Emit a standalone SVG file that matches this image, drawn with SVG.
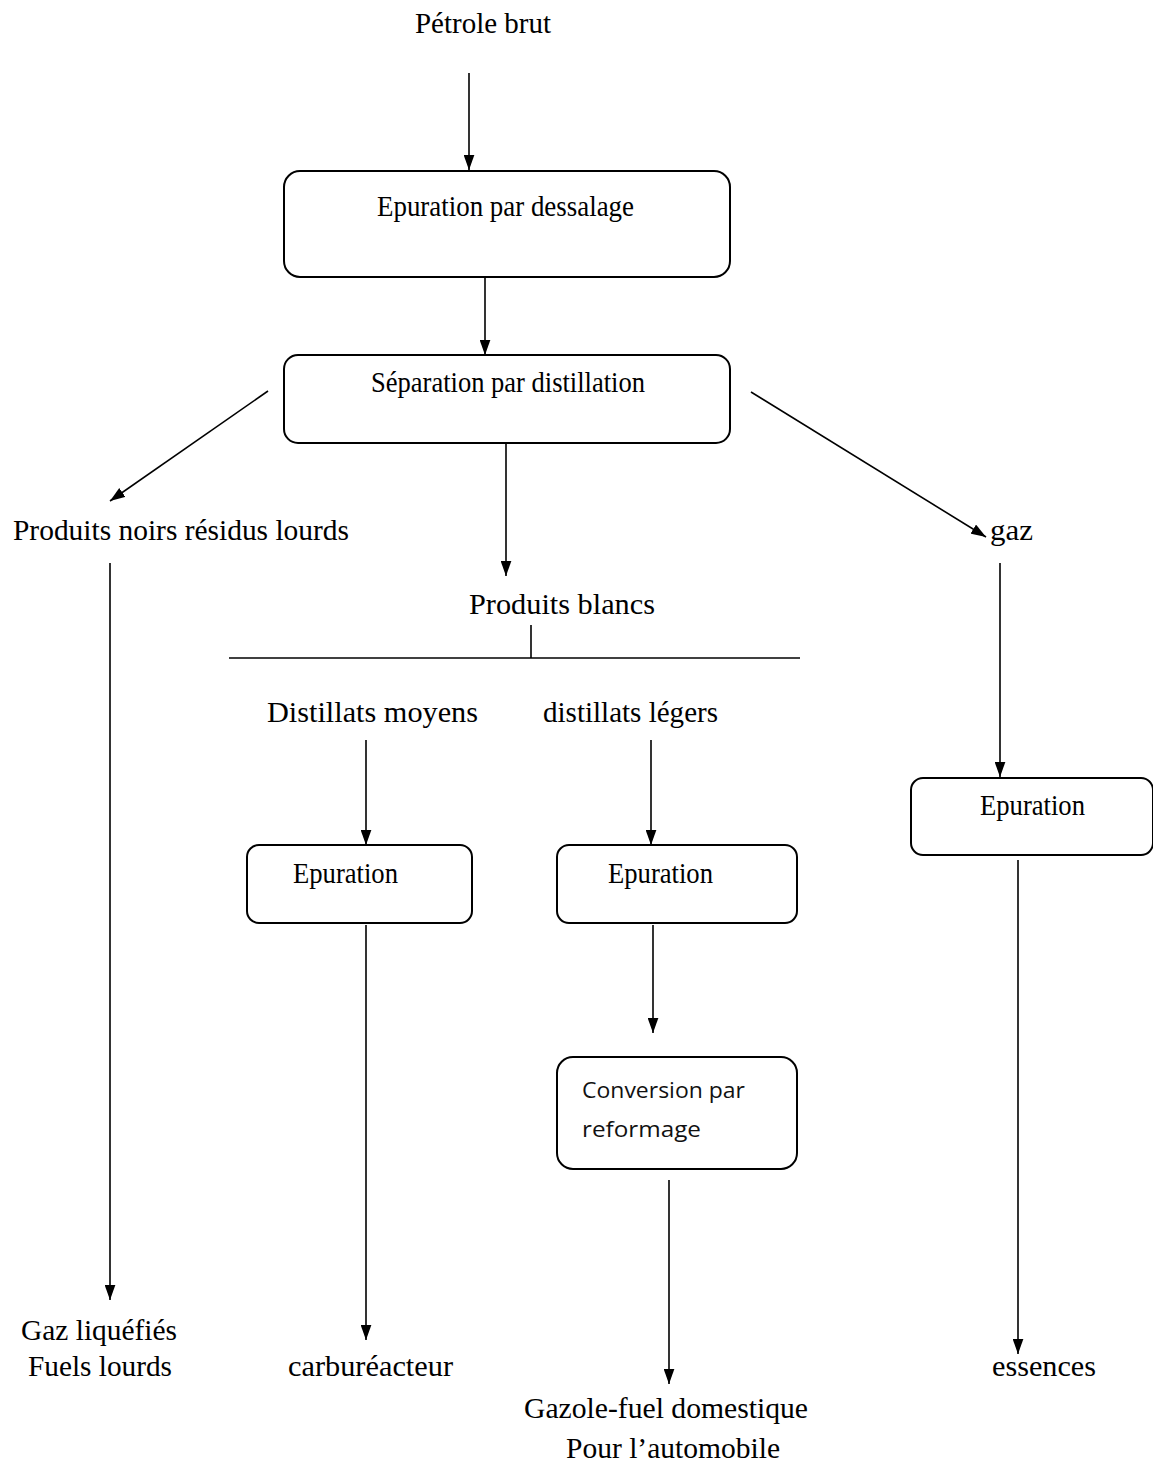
<svg xmlns="http://www.w3.org/2000/svg" width="1153" height="1466" viewBox="0 0 1153 1466">
<defs>
<marker id="ah" viewBox="0 0 14 10" refX="14" refY="5" markerWidth="15" markerHeight="11" markerUnits="userSpaceOnUse" orient="auto">
<path d="M0,0 L14,5 L0,10 Z" fill="#000"/>
</marker>
<style>
.t{font-family:"Liberation Serif","Times New Roman",serif;font-size:30px;fill:#000}
.s{font-family:"Open Sans","Liberation Sans",sans-serif;font-size:22px;fill:#111}
.box{fill:#fff;stroke:#000;stroke-width:2}
.c{stroke:#000;stroke-width:1.6;fill:none}
.a{stroke:#000;stroke-width:1.6;fill:none;marker-end:url(#ah)}
</style>
</defs>
<rect width="1153" height="1466" fill="#fff"/>
<g id="connectors">
<line class="a" x1="469" y1="73" x2="469" y2="170"/>
<line class="a" x1="485" y1="277" x2="485" y2="355"/>
<line class="a" x1="268" y1="391" x2="110" y2="501"/>
<line class="a" x1="506" y1="443" x2="506" y2="576"/>
<line class="a" x1="751" y1="392" x2="986" y2="537"/>
<line class="c" x1="531" y1="625" x2="531" y2="658"/>
<line class="c" x1="229" y1="658" x2="800" y2="658"/>
<line class="a" x1="366" y1="740" x2="366" y2="845"/>
<line class="a" x1="651" y1="740" x2="651" y2="845"/>
<line class="a" x1="653" y1="925" x2="653" y2="1033"/>
<line class="a" x1="669" y1="1180" x2="669" y2="1384"/>
<line class="a" x1="1000" y1="563" x2="1000" y2="777"/>
<line class="a" x1="1018" y1="860" x2="1018" y2="1354"/>
<line class="a" x1="110" y1="563" x2="110" y2="1300"/>
<line class="a" x1="366" y1="925" x2="366" y2="1340"/>
</g>
<g id="petrole"><text class="t" x="415" y="33" textLength="136" lengthAdjust="spacingAndGlyphs">Pétrole brut</text></g>
<g id="dessalage">
<rect class="box" x="284" y="171" width="446" height="106" rx="16"/>
<text class="t" x="377" y="216" textLength="257" lengthAdjust="spacingAndGlyphs">Epuration par dessalage</text>
</g>
<g id="distillation">
<rect class="box" x="284" y="355" width="446" height="88" rx="14"/>
<text class="t" x="371" y="392" textLength="274" lengthAdjust="spacingAndGlyphs">Séparation par distillation</text>
</g>
<g id="noirs"><text class="t" x="13" y="540" textLength="336" lengthAdjust="spacingAndGlyphs">Produits noirs résidus lourds</text></g>
<g id="gaz"><text class="t" x="990" y="540" textLength="43" lengthAdjust="spacingAndGlyphs">gaz</text></g>
<g id="blancs"><text class="t" x="469" y="614" textLength="186" lengthAdjust="spacingAndGlyphs">Produits blancs</text></g>
<g id="moyens"><text class="t" x="267" y="722" textLength="211" lengthAdjust="spacingAndGlyphs">Distillats moyens</text></g>
<g id="legers"><text class="t" x="543" y="722" textLength="175" lengthAdjust="spacingAndGlyphs">distillats légers</text></g>
<g id="epuration1">
<rect class="box" x="247" y="845" width="225" height="78" rx="12"/>
<text class="t" x="293" y="883" textLength="105" lengthAdjust="spacingAndGlyphs">Epuration</text>
</g>
<g id="epuration2">
<rect class="box" x="557" y="845" width="240" height="78" rx="12"/>
<text class="t" x="608" y="883" textLength="105" lengthAdjust="spacingAndGlyphs">Epuration</text>
</g>
<g id="epuration3">
<rect class="box" x="911" y="778" width="242" height="77" rx="12"/>
<text class="t" x="980" y="815" textLength="105" lengthAdjust="spacingAndGlyphs">Epuration</text>
</g>
<g id="conversion">
<rect class="box" x="557" y="1057" width="240" height="112" rx="16"/>
<text class="s" x="582" y="1098" textLength="163" lengthAdjust="spacingAndGlyphs">Conversion par</text>
<text class="s" x="582" y="1137" textLength="119" lengthAdjust="spacingAndGlyphs">reformage</text>
</g>
<g id="gazliquefies">
<text class="t" x="21" y="1340" textLength="156" lengthAdjust="spacingAndGlyphs">Gaz liquéfiés</text>
<text class="t" x="28" y="1376" textLength="144" lengthAdjust="spacingAndGlyphs">Fuels lourds</text>
</g>
<g id="carbureacteur"><text class="t" x="288" y="1376" textLength="165" lengthAdjust="spacingAndGlyphs">carburéacteur</text></g>
<g id="gazole">
<text class="t" x="524" y="1418" textLength="284" lengthAdjust="spacingAndGlyphs">Gazole-fuel domestique</text>
<text class="t" x="566" y="1458" textLength="214" lengthAdjust="spacingAndGlyphs">Pour l’automobile</text>
</g>
<g id="essences"><text class="t" x="992" y="1376" textLength="104" lengthAdjust="spacingAndGlyphs">essences</text></g>
</svg>
